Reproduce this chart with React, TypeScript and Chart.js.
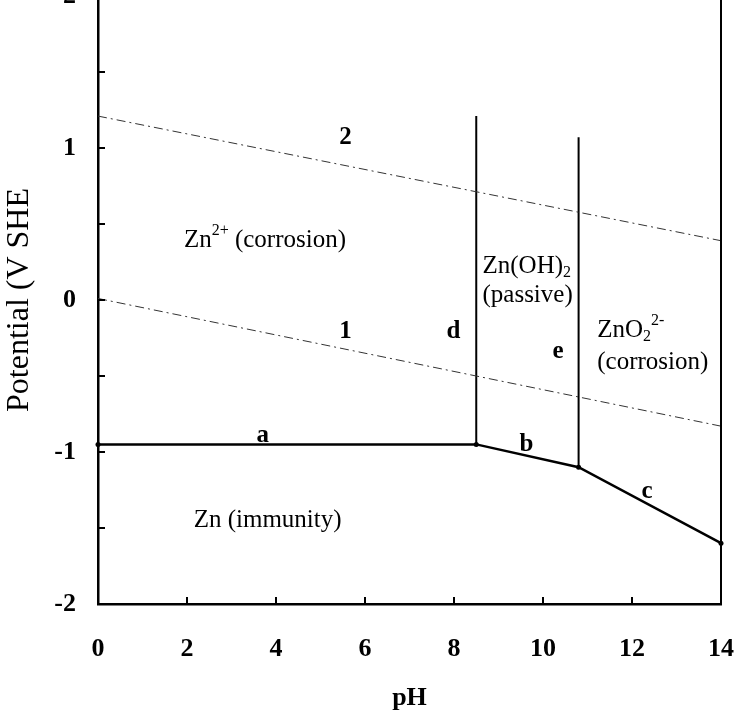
import { useEffect, useRef } from 'react';
import { Chart, registerables } from 'chart.js';
Chart.register(...registerables);

// ---- data (pH, potential in V SHE) ----
const PH_BOUNDARY = [0, 8.5, 10.8, 14];
const E_BOUNDARY = [-0.95, -0.95, -1.1, -1.6];
const PH_D = [8.5, 8.5];
const E_D = [-0.95, 1.21];
const PH_E = [10.8, 10.8];
const E_E = [-1.1, 1.07];
const PH_WATER = [0, 14];
const E_LINE2 = [1.21, 0.39];
const E_LINE1 = [0.01, -0.83];
const X_TICK_STEP = 2;
const Y_TICK_STEP = 0.5;

type Run = [string, number];
interface Note { runs: Run[]; x: number; y: number; bold: boolean; align: 'left' | 'center'; }
const NOTES: Note[] = [
  { runs: [['Zn', 0], ['2+', 1], [' (corrosion)', 0]], x: 1.93, y: 0.39, bold: false, align: 'left' },
  { runs: [['Zn(OH)', 0], ['2', -1]], x: 8.64, y: 0.22, bold: false, align: 'left' },
  { runs: [['(passive)', 0]], x: 8.64, y: 0.03, bold: false, align: 'left' },
  { runs: [['ZnO', 0], ['2', -1], ['2-', 1]], x: 11.22, y: -0.2, bold: false, align: 'left' },
  { runs: [['(corrosion)', 0]], x: 11.22, y: -0.41, bold: false, align: 'left' },
  { runs: [['Zn (immunity)', 0]], x: 2.15, y: -1.45, bold: false, align: 'left' },
  { runs: [['2', 0]], x: 5.56, y: 1.07, bold: true, align: 'center' },
  { runs: [['1', 0]], x: 5.56, y: -0.21, bold: true, align: 'center' },
  { runs: [['a', 0]], x: 3.7, y: -0.89, bold: true, align: 'center' },
  { runs: [['b', 0]], x: 9.63, y: -0.95, bold: true, align: 'center' },
  { runs: [['c', 0]], x: 12.34, y: -1.26, bold: true, align: 'center' },
  { runs: [['d', 0]], x: 7.99, y: -0.21, bold: true, align: 'center' },
  { runs: [['e', 0]], x: 10.34, y: -0.34, bold: true, align: 'center' },
];

const FAMILY = '"Liberation Serif", "Times New Roman", serif';
const W = 736;
const H = 756;
const TOP = -40;

const pts = (xs: number[], ys: number[]) => xs.map((x, i) => ({ x, y: ys[i] }));

const decorPlugin = {
  id: 'decor',
  afterDraw(chart: any) {
    const { ctx, chartArea, scales } = chart;
    const xs = scales.x;
    const ys = scales.y;
    ctx.save();
    // right border
    ctx.strokeStyle = '#000';
    ctx.lineWidth = 2;
    ctx.beginPath();
    ctx.moveTo(chartArea.right, chartArea.top);
    ctx.lineTo(chartArea.right, chartArea.bottom + 1);
    ctx.stroke();
    // inward ticks
    ctx.lineWidth = 2;
    ys.ticks.forEach((t: any) => {
      const p = ys.getPixelForValue(t.value);
      ctx.beginPath();
      ctx.moveTo(chartArea.left, p);
      ctx.lineTo(chartArea.left + 7, p);
      ctx.stroke();
    });
    xs.ticks.forEach((t: any) => {
      const p = xs.getPixelForValue(t.value);
      ctx.beginPath();
      ctx.moveTo(p, chartArea.bottom);
      ctx.lineTo(p, chartArea.bottom - 7);
      ctx.stroke();
    });
    // annotations
    ctx.fillStyle = '#000';
    ctx.textBaseline = 'middle';
    const base = 25;
    const small = 16;
    NOTES.forEach((n) => {
      const weight = n.bold ? 'bold ' : '';
      const px = xs.getPixelForValue(n.x);
      const py = ys.getPixelForValue(n.y);
      let total = 0;
      n.runs.forEach(([s, k]) => {
        ctx.font = `${weight}${k === 0 ? base : small}px ${FAMILY}`;
        total += ctx.measureText(s).width;
      });
      let cx = n.align === 'center' ? px - total / 2 : px;
      ctx.textAlign = 'left';
      n.runs.forEach(([s, k]) => {
        ctx.font = `${weight}${k === 0 ? base : small}px ${FAMILY}`;
        const dy = k === 1 ? -10 : k === -1 ? 6 : 0;
        ctx.fillText(s, cx, py + dy);
        cx += ctx.measureText(s).width;
      });
    });
    ctx.restore();
  },
};

export default function App() {
  const ref = useRef<HTMLCanvasElement>(null);
  useEffect(() => {
    const dash = [9, 4, 2, 4];
    const chart = new Chart(ref.current!, {
      type: 'line',
      data: {
        datasets: [
          { label: '2', data: pts(PH_WATER, E_LINE2), borderColor: '#333', borderWidth: 1, borderDash: dash, pointRadius: 0 },
          { label: '1', data: pts(PH_WATER, E_LINE1), borderColor: '#333', borderWidth: 1, borderDash: dash, pointRadius: 0 },
          { label: 'd', data: pts(PH_D, E_D), borderColor: '#000', borderWidth: 2, pointRadius: 0 },
          { label: 'e', data: pts(PH_E, E_E), borderColor: '#000', borderWidth: 2, pointRadius: 0 },
          {
            label: 'abc', data: pts(PH_BOUNDARY, E_BOUNDARY), borderColor: '#000', borderWidth: 2.5,
            pointRadius: 2.5, pointBackgroundColor: '#000', pointBorderWidth: 0, clip: false as any,
          },
        ],
      },
      options: {
        animation: false,
        responsive: false,
        devicePixelRatio: 1,
        elements: { line: { tension: 0 } },
        layout: { padding: { top: 36, right: 15, left: 0, bottom: 0 } },
        plugins: { legend: { display: false }, tooltip: { enabled: false } },
        scales: {
          x: {
            type: 'linear', min: 0, max: 14,
            ticks: { stepSize: X_TICK_STEP, color: '#000', padding: 30, maxRotation: 0, autoSkip: false, font: { family: FAMILY, size: 26, weight: 'bold' } },
            grid: { display: false, drawTicks: false },
            border: { display: true, color: '#000', width: 2.5 },
            title: { display: true, text: 'pH', color: '#000', padding: { top: 0, bottom: 2 }, font: { family: FAMILY, size: 26, weight: 'bold' } },
            afterFit: (s: any) => { s.height = 112; s.paddingLeft = 0; s.paddingRight = 0; },
          },
          y: {
            type: 'linear', min: -2, max: 2,
            ticks: {
              stepSize: Y_TICK_STEP, color: '#000', padding: 22, autoSkip: false,
              font: { family: FAMILY, size: 26, weight: 'bold' },
              callback: (v: any) => (Number.isInteger(Number(v)) ? String(v) : ''),
            },
            grid: { display: false, drawTicks: false },
            border: { display: true, color: '#000', width: 2.5 },
            title: { display: true, text: 'Potential (V SHE', color: '#000', padding: 0, font: { family: FAMILY, size: 32 } },
            afterFit: (s: any) => { s.width = 98; s.paddingTop = 0; s.paddingBottom = 0; },
          },
        },
      },
      plugins: [decorPlugin],
    } as any);
    return () => chart.destroy();
  }, []);
  return (
    <div style={{ position: 'absolute', left: 0, top: TOP, width: W, height: H }}>
      <canvas ref={ref} width={W} height={H} style={{ width: W, height: H, display: 'block' }} />
    </div>
  );
}
